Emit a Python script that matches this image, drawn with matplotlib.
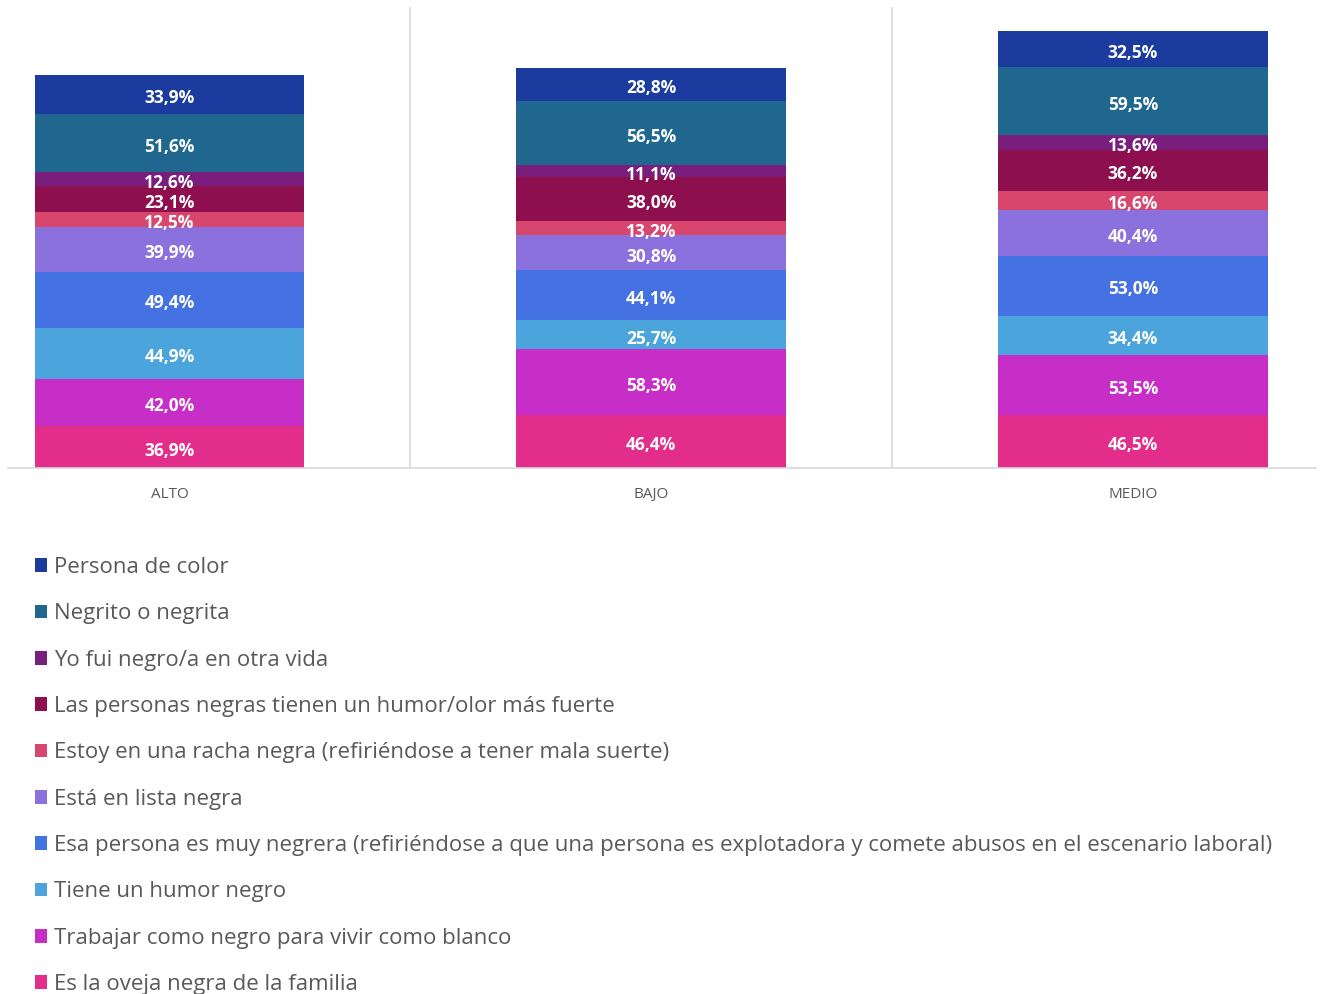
import matplotlib.pyplot as plt
from matplotlib.patches import Patch

categories = ["ALTO", "BAJO", "MEDIO"]

# series listed from the bottom of each stack to the top
series = [
    "Es la oveja negra de la familia",
    "Trabajar como negro para vivir como blanco",
    "Tiene un humor negro",
    "Esa persona es muy negrera (refiriéndose a que una persona es explotadora y comete abusos en el escenario laboral)",
    "Está en lista negra",
    "Estoy en una racha negra (refiriéndose a tener mala suerte)",
    "Las personas negras tienen un humor/olor más fuerte",
    "Yo fui negro/a en otra vida",
    "Negrito o negrita",
    "Persona de color",
]

values = [
    [36.9, 46.4, 46.5],
    [42.0, 58.3, 53.5],
    [44.9, 25.7, 34.4],
    [49.4, 44.1, 53.0],
    [39.9, 30.8, 40.4],
    [12.5, 13.2, 16.6],
    [23.1, 38.0, 36.2],
    [12.6, 11.1, 13.6],
    [51.6, 56.5, 59.5],
    [33.9, 28.8, 32.5],
]

colors = [
    "#e32d8a",
    "#c62ec7",
    "#4ba5dc",
    "#4572e2",
    "#8b71de",
    "#d8466e",
    "#8e0f4e",
    "#7a1e7d",
    "#1f678f",
    "#1b3b9e",
]


def pct(v):
    return f"{v:.1f}%".replace(".", ",")


fig = plt.figure(figsize=(13.34, 9.94), dpi=100)
W, H = 1334, 994
ax = fig.add_axes([8 / W, 1 - 468 / H, 1308 / W, 461 / H])

x = list(range(len(categories)))
bottoms = [0.0] * len(categories)
for name, vals, col in zip(series, values, colors):
    ax.bar(x, vals, width=0.56, bottom=bottoms, color=col, label=name)
    for xi, b, v in zip(x, bottoms, vals):
        ax.text(xi, b + v / 2 - 1.5, pct(v), ha="center", va="center_baseline",
                color="white", fontsize=12.5, fontweight="bold",
                family="Open Sans")
    bottoms = [b + v for b, v in zip(bottoms, vals)]

ax.set_xlim(-0.3354, 2.380)
ax.set_ylim(0, 407)

for sep in [0.5, 1.5]:
    ax.axvline(sep, color="#d9d9d9", linewidth=1.2, zorder=0)

for s in ["top", "right", "left"]:
    ax.spines[s].set_visible(False)
ax.spines["bottom"].set_color("#d9d9d9")
ax.spines["bottom"].set_linewidth(1.2)
ax.set_yticks([])
ax.set_xticks(x)
ax.set_xticklabels(categories, color="#595959", fontsize=11, family="Open Sans")
ax.tick_params(axis="x", length=0, pad=14)

handles = [Patch(facecolor=c, label=n) for n, c in zip(series, colors)][::-1]
fig.legend(handles=handles, loc="upper left", bbox_to_anchor=(35 / W, 1 - 557 / H),
           frameon=False, labelcolor="#595959",
           handlelength=0.56, handleheight=0.56, handletextpad=0.3,
           borderpad=0, borderaxespad=0,
           labelspacing=1.14, prop={"family": "Open Sans", "size": 16})

fig.savefig("out.png", dpi=100)
